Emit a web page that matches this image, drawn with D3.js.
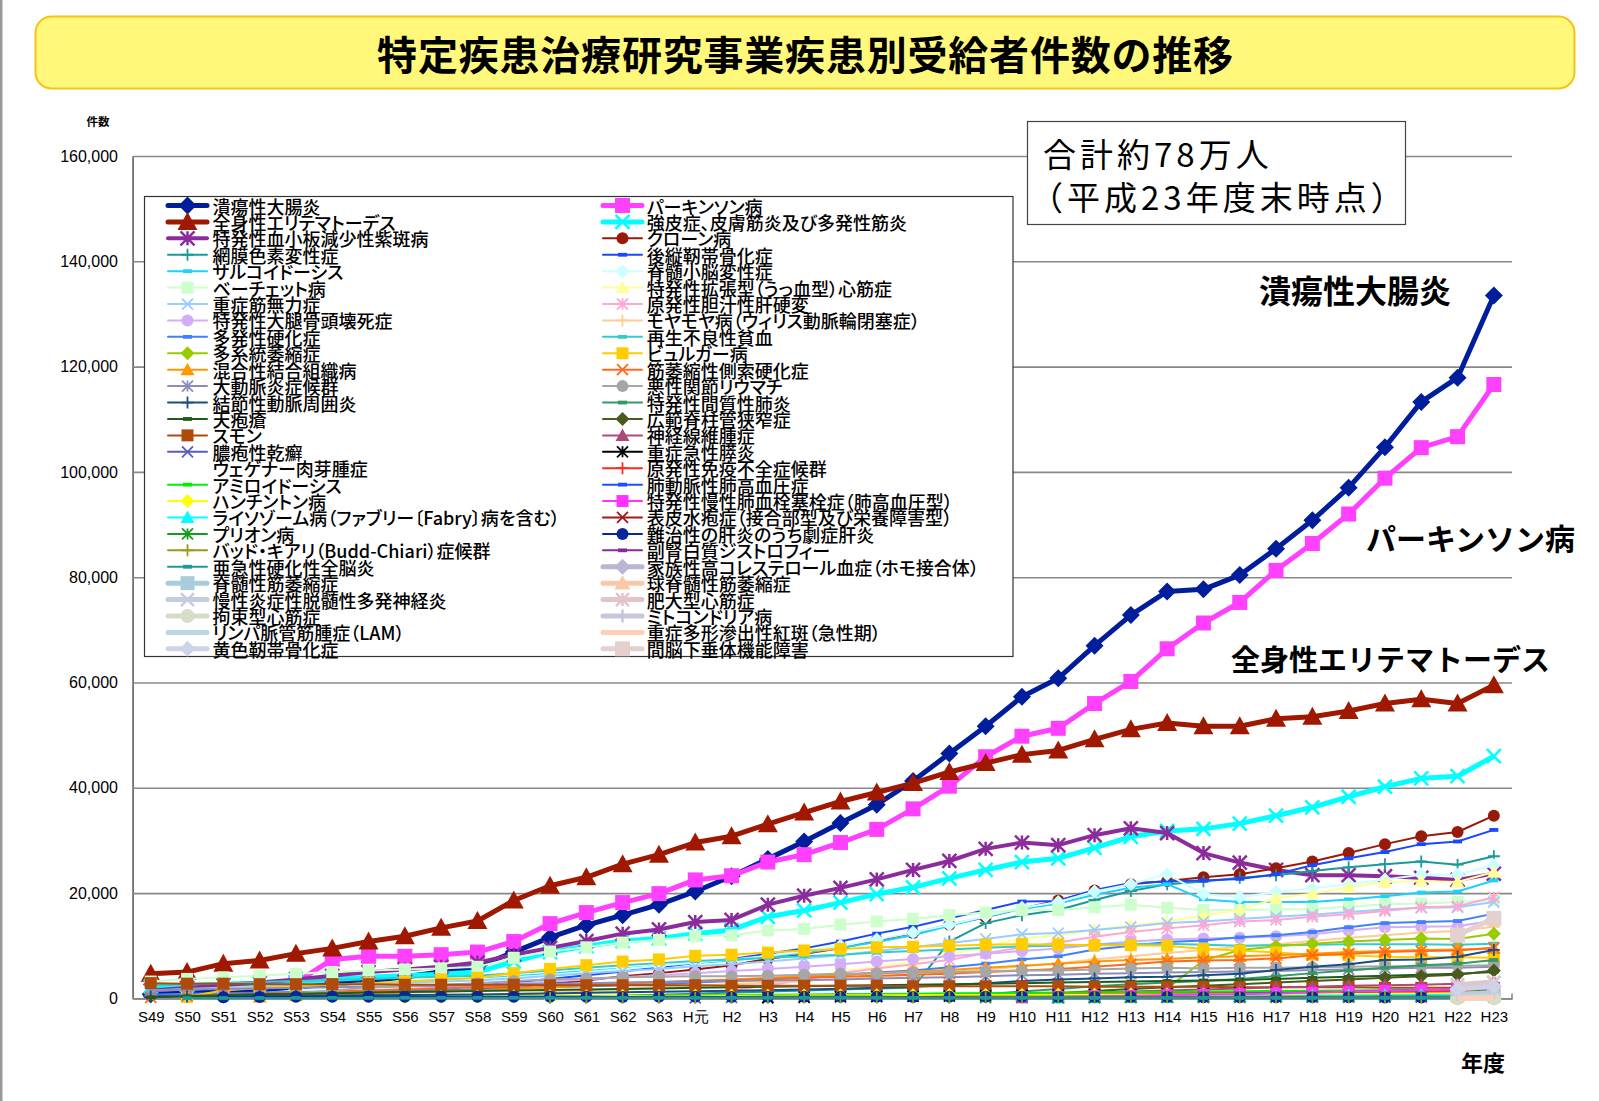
<!DOCTYPE html>
<html><head><meta charset="utf-8">
<script src="https://cdn.jsdelivr.net/npm/d3@7"></script>
<style>body{margin:0;background:#fff;} svg{display:block} .lgt{font-feature-settings:'palt';}</style>
</head><body><svg id="c" width="1599" height="1101"></svg>
<script>
const N = null;
const categories = ["S49","S50","S51","S52","S53","S54","S55","S56","S57","S58","S59","S60","S61","S62","S63","H元","H2","H3","H4","H5","H6","H7","H8","H9","H10","H11","H12","H13","H14","H15","H16","H17","H18","H19","H20","H21","H22","H23"];
const yTicks = [0,20000,40000,60000,80000,100000,120000,140000,160000];

const leftNames = ["潰瘍性大腸炎","全身性エリテマトーデス","特発性血小板減少性紫斑病","網膜色素変性症","サルコイドーシス","ベーチェット病","重症筋無力症","特発性大腿骨頭壊死症","多発性硬化症","多系統萎縮症","混合性結合組織病","大動脈炎症候群","結節性動脈周囲炎","天疱瘡","スモン","膿疱性乾癬","ウェゲナー肉芽腫症","アミロイドーシス","ハンチントン病","ライソゾーム病（ファブリー〔Fabry〕病を含む）","プリオン病","バッド・キアリ（Budd-Chiari）症候群","亜急性硬化性全脳炎","脊髄性筋萎縮症","慢性炎症性脱髄性多発神経炎","拘束型心筋症","リンパ脈管筋腫症（LAM）","黄色靭帯骨化症"];
const rightNames = ["パーキンソン病","強皮症、皮膚筋炎及び多発性筋炎","クローン病","後縦靭帯骨化症","脊髄小脳変性症","特発性拡張型（うっ血型）心筋症","原発性胆汁性肝硬変","モヤモヤ病（ウィリス動脈輪閉塞症）","再生不良性貧血","ビュルガー病","筋萎縮性側索硬化症","悪性関節リウマチ","特発性間質性肺炎","広範脊柱管狭窄症","神経線維腫症","重症急性膵炎","原発性免疫不全症候群","肺動脈性肺高血圧症","特発性慢性肺血栓塞栓症（肺高血圧型）","表皮水疱症（接合部型及び栄養障害型）","難治性の肝炎のうち劇症肝炎","副腎白質ジストロフィー","家族性高コレステロール血症（ホモ接合体）","球脊髄性筋萎縮症","肥大型心筋症","ミトコンドリア病","重症多形滲出性紅斑（急性期）","間脳下垂体機能障害"];

// ---- left column series values (S49 .. H23) ----
const L01 = [800,1000,1300,1600,2000,2700,3300,4100,5000,6000,8800,11600,13900,15800,17800,20300,23200,26500,29800,33300,36800,41300,46500,51700,57300,60800,67000,72800,77300,77700,80400,85400,90800,97000,104700,113300,117900,133500];
const L02 = [4700,5000,6600,7200,8500,9500,10800,11800,13400,14700,18600,21400,23000,25500,27300,29600,30800,33100,35300,37400,39100,40900,43000,44700,46300,47100,49200,51100,52300,51700,51700,53100,53500,54600,56000,56800,56000,59500];
const L03 = [1500,2000,2500,3000,3600,4300,5000,5500,6000,6800,8300,9600,10900,12300,13100,14500,14900,17800,19500,21000,22600,24400,26100,28400,29600,29100,31000,32300,31400,27600,25800,24400,23400,23400,23200,22900,22500,23700];
const L04 = [N,N,N,N,N,N,N,N,N,N,N,N,300,500,700,900,1100,1300,1500,1700,1900,2000,10800,14300,15800,16800,18700,20400,21700,22200,22900,23400,24200,24900,25500,26000,25400,27000];
const L05 = [1500,1700,1900,2100,2300,2600,2900,3100,3400,3700,4200,4700,5200,5700,6200,6700,7200,7900,8600,9600,10700,12000,13800,15500,17000,18000,19700,21000,21700,18800,18300,18300,18300,18800,19400,20100,20300,22400];
const L06 = [3200,3700,4000,4300,4700,5000,5300,5500,5700,6000,7700,8900,9700,10600,11100,11800,12000,12900,13200,14000,14600,15100,15800,16300,16800,16800,17300,17800,17200,16800,16800,16900,17000,17400,17900,18000,18300,18700];
const L07 = [1500,1800,2000,2200,2400,2600,2800,3000,3200,3400,3800,4300,4800,5200,5600,6100,6500,7000,7600,8200,9000,9700,10500,11300,12200,12400,13000,13600,14300,14600,15100,15500,15900,16400,16900,17200,17300,18300];
const L08 = [N,N,300,600,900,1200,1500,1800,2100,2400,2800,3200,3600,4000,4400,4800,5200,5600,6000,6500,7000,7500,8000,8500,9000,9500,10200,10800,11200,11400,11500,11800,12200,12900,13500,13600,13700,14800];
const L09 = [700,900,1000,1100,1200,1300,1400,1500,1600,1700,1900,2100,2300,2500,2700,3000,3300,3600,4000,4400,4900,5300,5900,6600,7400,8000,9300,10000,10700,11000,11600,12000,12600,13500,14300,14500,14700,16100];
const L10 = [N,N,N,N,N,N,N,N,N,N,N,N,N,N,N,N,N,N,N,N,N,N,N,N,N,N,N,N,1900,7200,9200,9900,10400,10800,11100,11400,11300,12300];
const L11 = [N,N,N,300,500,700,900,1100,1300,1500,1800,2100,2400,2700,3000,3300,3600,3900,4200,4500,4800,5100,5400,5800,6200,6600,7000,7300,7500,7800,8000,8200,8500,8800,9000,9200,9300,9500];
const L12 = [1500,1700,1800,1900,2000,2100,2200,2300,2400,2500,2700,2800,2900,3000,3100,3200,3300,3400,3500,3600,3800,3900,4000,4200,4400,4500,4700,4800,4900,5000,5100,5200,5400,5500,5700,5800,5800,6000];
const L13 = [300,350,400,450,500,550,600,650,700,750,850,950,1050,1150,1250,1350,1450,1550,1700,1850,2000,2200,2500,2900,3300,3600,3800,4000,4100,4400,4700,5400,6000,6500,7300,7400,7900,9200];
const L14 = [200,400,600,800,900,1000,1100,1200,1300,1400,1500,1600,1700,1800,1900,2000,2100,2200,2300,2400,2500,2600,2700,2800,2900,3000,3100,3200,3300,3400,3500,3700,3900,4100,4300,4500,4700,5000];
const L15 = [2900,2800,2800,2700,2700,2700,2700,2600,2600,2600,2600,2500,2500,2500,2500,2500,2400,2400,2400,2400,2400,2300,2300,2300,2300,2300,2200,2200,2200,2200,2100,2100,2100,2100,2000,2000,2000,2000];
const L16 = [N,N,N,N,N,N,N,N,N,N,N,N,N,N,N,100,200,300,400,500,550,600,650,700,750,800,850,900,950,1000,1050,1100,1200,1300,1400,1500,1600,1700];
const L17 = [N,N,N,N,N,N,N,N,N,N,N,N,N,N,N,100,150,200,250,300,350,400,450,500,550,600,650,700,750,800,850,900,950,1000,1100,1200,1300,1400];
const L18 = [N,N,N,N,N,100,160,210,240,300,340,410,450,490,560,600,640,700,760,790,850,900,960,1000,1040,1100,1160,1200,1230,1300,1360,1390,1450,1500,1540,1600,1640,1700];
const L19 = [N,N,N,N,N,N,N,200,260,300,350,400,420,440,460,480,500,520,540,560,590,610,630,650,660,680,700,720,730,750,770,790,800,820,840,860,880,900];
const L20 = [N,N,N,N,N,N,N,N,N,N,N,N,N,N,N,N,N,N,N,N,N,N,N,N,N,100,150,200,250,320,380,430,480,540,590,650,700,780];
const L21 = [N,N,N,N,N,N,N,N,N,N,N,N,N,N,N,N,N,N,N,N,N,N,N,150,180,200,220,240,260,270,290,300,320,330,350,360,380,400];
const L22 = [N,N,N,N,N,N,N,N,N,N,N,80,100,110,120,130,140,150,160,170,180,185,190,195,200,205,210,215,220,225,230,235,240,245,250,255,260,270];
const L23 = [N,60,70,80,90,100,100,110,110,110,110,110,110,100,100,100,100,100,100,100,100,90,90,90,90,90,90,90,90,90,90,90,90,90,90,90,90,90];
const L24 = [N,N,N,N,N,N,N,N,N,N,N,N,N,N,N,N,N,N,N,N,N,N,N,N,N,N,N,N,N,N,N,N,N,N,N,N,600,700];
const L25 = [N,N,N,N,N,N,N,N,N,N,N,N,N,N,N,N,N,N,N,N,N,N,N,N,N,N,N,N,N,N,N,N,N,N,N,N,2600,3100];
const L26 = [N,N,N,N,N,N,N,N,N,N,N,N,N,N,N,N,N,N,N,N,N,N,N,N,N,N,N,N,N,N,N,N,N,N,N,N,20,25];
const L27 = [N,N,N,N,N,N,N,N,N,N,N,N,N,N,N,N,N,N,N,N,N,N,N,N,N,N,N,N,N,N,N,N,N,N,N,N,300,400];
const L28 = [N,N,N,N,N,N,N,N,N,N,N,N,N,N,N,N,N,N,N,N,N,N,N,N,N,N,N,N,N,N,N,N,N,N,N,N,1800,2300];

// ---- right column series values ----
const R01 = [N,N,N,N,3000,7400,8000,8000,8300,8800,10800,14200,16300,18200,19900,22500,23300,25900,27300,29600,32100,36000,40300,45900,49800,51300,56000,60200,66400,71300,75200,81300,86400,92000,98800,104600,106700,116600];
const R02 = [2300,2500,2700,2900,3100,3600,4000,4300,4600,5000,7000,8800,9900,10900,11400,12300,13000,15500,16700,18200,19800,21100,22800,24400,25900,26600,28600,30700,31800,32200,33200,34700,36300,38300,40200,41800,42200,46000];
const R03 = [N,N,200,400,600,800,1000,1200,1400,1700,2200,2800,3400,4200,4800,5500,6300,7500,8500,9500,11000,12400,14000,15400,17100,18600,20500,21700,22300,23000,23600,24700,26000,27600,29300,30800,31600,34700];
const R04 = [N,N,N,N,N,N,800,1300,1800,2400,3000,3700,4400,5100,5900,6700,7500,8500,9500,10800,12300,13600,15200,16800,18400,18500,20600,21900,22200,22400,22700,23600,25300,26600,27800,29300,29800,32000];
const R05 = [N,N,500,1000,1500,2000,2400,2800,3200,3600,4000,4500,5000,5600,6200,6800,7400,8100,8900,10000,11200,12500,14000,15600,17200,18300,20300,21700,23600,19800,19200,20200,20900,21700,22600,23500,23500,25300];
const R06 = [N,N,N,N,N,N,N,N,N,N,N,500,1000,1500,2000,2400,2800,3300,4000,5000,6000,7000,8400,9800,11400,12000,13000,13900,14600,15800,16800,19000,19900,21100,22100,22300,22100,24000];
const R07 = [N,N,N,N,N,N,N,N,N,N,N,N,N,N,N,N,1500,2500,3500,4800,5700,6500,7300,8600,9700,10600,11700,12600,13300,13900,14600,14900,15500,16000,16600,17300,17500,19200];
const R08 = [N,N,N,N,N,N,N,N,300,600,900,1200,1500,1800,2100,2400,2700,3000,3300,3700,4100,4500,5000,5500,6100,6700,7400,8000,8600,9200,9800,10300,10900,11500,12000,12500,12800,13600];
const R09 = [2500,2700,2900,3100,3300,3500,3700,3900,4100,4300,4800,5300,5800,6300,6700,7100,7400,7700,8000,8300,8700,9000,9300,9600,9900,10000,10200,10300,10400,10200,10000,10100,10200,10300,10300,10300,10200,10400];
const R10 = [N,300,1500,2000,2300,2600,2900,3200,3600,3900,4800,5600,6300,7000,7400,8100,8300,8700,9100,9400,9700,9800,10000,10200,10300,10200,10100,10100,10000,9400,9100,8700,8300,8200,7900,7800,7800,7700];
const R11 = [200,500,700,900,1100,1300,1500,1700,1900,2100,2300,2500,2700,2900,3100,3300,3500,3700,3900,4100,4300,4500,4700,5000,5300,5600,6000,6500,7000,7200,7300,7600,8200,8500,8800,9000,9100,9600];
const R12 = [N,N,N,500,1000,1500,2000,2300,2600,2900,3300,3600,3800,4000,4100,4200,4200,4300,4500,4700,4800,4900,5000,5100,5300,5300,5500,5700,5800,5700,5800,5800,5900,6000,6100,6100,6200,6300];
const R13 = [N,N,N,N,N,N,N,N,N,N,N,N,N,N,N,N,N,N,N,N,N,N,300,800,1300,1800,2300,2700,3000,3300,3700,4200,4800,5300,5800,6300,6600,7300];
const R14 = [N,N,N,N,N,N,N,N,N,N,N,N,N,N,N,N,N,N,N,N,N,N,N,N,600,1000,1400,1800,2100,2400,2700,3000,3300,3600,3900,4200,4500,5300];
const R15 = [N,N,N,N,N,N,N,N,N,N,N,N,N,N,N,N,N,N,N,N,N,N,N,N,700,900,1100,1300,1500,1700,1900,2100,2200,2400,2500,2600,2800,3200];
const R16 = [N,N,N,N,N,N,N,N,N,N,N,N,N,N,N,N,N,100,200,300,350,400,450,500,560,620,700,780,850,950,1050,1150,1250,1350,1450,1550,1600,1650];
const R17 = [N,N,N,N,N,N,N,N,N,N,N,N,300,400,450,500,550,600,650,700,750,800,850,900,950,1000,1000,1050,1100,1100,1150,1150,1200,1200,1250,1250,1300,1300];
const R18 = [N,N,N,N,N,N,N,N,N,N,N,N,N,N,N,N,N,N,N,N,N,N,N,N,300,400,500,600,700,800,900,1000,1100,1250,1400,1550,1700,2200];
const R19 = [N,N,N,N,N,N,N,N,N,N,N,N,N,N,N,N,N,N,N,N,N,N,N,N,200,300,400,500,600,700,800,950,1100,1250,1400,1550,1700,1900];
const R20 = [N,N,N,N,N,N,N,N,N,N,N,N,N,N,N,N,N,N,N,N,N,N,N,N,N,150,170,190,200,210,220,230,240,250,260,270,280,300];
const R21 = [N,N,200,260,300,320,310,300,290,300,310,290,300,280,300,290,280,300,290,310,300,280,290,300,290,280,270,260,250,240,230,220,210,200,190,180,170,160];
const R22 = [N,N,N,N,N,N,N,N,N,N,N,N,N,N,N,N,N,N,N,N,N,N,N,N,N,N,100,110,120,130,140,150,160,170,180,180,190,190];
const R23 = [N,N,N,N,N,N,N,N,N,N,N,N,N,N,N,N,N,N,N,N,N,N,N,N,N,N,N,N,N,N,N,N,N,N,N,N,100,130];
const R24 = [N,N,N,N,N,N,N,N,N,N,N,N,N,N,N,N,N,N,N,N,N,N,N,N,N,N,N,N,N,N,N,N,N,N,N,N,800,1000];
const R25 = [N,N,N,N,N,N,N,N,N,N,N,N,N,N,N,N,N,N,N,N,N,N,N,N,N,N,N,N,N,N,N,N,N,N,N,N,2400,3000];
const R26 = [N,N,N,N,N,N,N,N,N,N,N,N,N,N,N,N,N,N,N,N,N,N,N,N,N,N,N,N,N,N,N,N,N,N,N,N,700,1100];
const R27 = [N,N,N,N,N,N,N,N,N,N,N,N,N,N,N,N,N,N,N,N,N,N,N,N,N,N,N,N,N,N,N,N,N,N,N,N,40,60];
const R28 = [N,N,N,N,N,N,N,N,N,N,N,N,N,N,N,N,N,N,N,N,N,N,N,N,N,N,N,N,N,N,N,N,N,N,N,N,12000,15200];

const leftData = [L01,L02,L03,L04,L05,L06,L07,L08,L09,L10,L11,L12,L13,L14,L15,L16,L17,L18,L19,L20,L21,L22,L23,L24,L25,L26,L27,L28];
const rightData = [R01,R02,R03,R04,R05,R06,R07,R08,R09,R10,R11,R12,R13,R14,R15,R16,R17,R18,R19,R20,R21,R22,R23,R24,R25,R26,R27,R28];

// ---- styles (colour, line width, marker type, marker size) ----
const leftStyle = [
 ["#001E9C",5,"diamond",9],["#A01800",5,"triangle",10],["#8C2C9C",4,"asterisk",7],["#1A9A9A",2,"plus",6],
 ["#1AD2FA",2,"dash",4.5],["#CCFFCC",2,"square",6],["#99CCFF",2,"x",5.5],["#D2AEF8",2,"circle",6],
 ["#3F80FF",2,"dash",4.5],["#99CC00",2,"diamond",7],["#FF9900",2,"triangle",7],["#8C8CBA",2,"asterisk",5.5],
 ["#1A4F86",2,"plus",6],["#1A5E1A",2,"dash",4.5],["#B04A0A",2,"square",6],["#5A5ABF",2,"x",5.5],
 [null,2,"none",0],["#00F000",2,"dash",4.5],["#FFFF00",2,"diamond",7],["#00FFFF",2,"triangle",7],
 ["#1A9A1A",2,"asterisk",5.5],["#9A9A1A",2,"plus",6],["#1A9A9A",2,"dash",4.5],["#A8CCDC",5,"square",7],
 ["#C4CCE2",5,"x",6.5],["#D4DEC8",5,"circle",7],["#BCD6E4",5,"none",0],["#CDD3E8",5,"diamond",8]
];
const rightStyle = [
 ["#FF40FF",5,"square",7.5],["#00FFFF",5,"x",7],["#9A1A0A",2,"circle",6],["#1A48FF",2,"dash",4.5],
 ["#CCFFFF",2,"diamond",7],["#FFFF99",2,"triangle",7],["#FFA6D2",2,"asterisk",5.5],["#FFCC99",2,"plus",6],
 ["#33CCCC",2,"dash",4.5],["#FFCC00",2,"square",6],["#FF6A1A",2,"x",5.5],["#A6A6A6",2,"circle",6],
 ["#339966",2,"dash",4.5],["#4A5A1A",2,"diamond",7],["#B0487A",2,"triangle",7],["#000000",2,"asterisk",5.5],
 ["#FF2A1A",2,"plus",6],["#1A50FF",2,"dash",4.5],["#FF33FF",2,"square",6],["#A01A1A",2,"x",5.5],
 ["#0A2596",2,"circle",6],["#8A2A9A",2,"dash",4.5],["#B8B6D2",5,"diamond",8],["#FAC8A8",5,"triangle",8],
 ["#E3C5C8",5,"asterisk",6.5],["#C7C7DC",5,"plus",6.5],["#FCCFB6",5,"none",0],["#E5D0D0",5,"square",7.5]
];

const JP = "'Noto Sans CJK JP','Noto Sans CJK SC',sans-serif";
const LAT = "'Liberation Sans',Arial,sans-serif";
const svg = d3.select("#c");

svg.append("rect").attr("x",0).attr("y",0).attr("width",1599).attr("height",1101).attr("fill","#fff");
svg.append("rect").attr("x",0).attr("y",0).attr("width",2.5).attr("height",1101).attr("fill","#9a9a9a");

// title
svg.append("rect").attr("x",35.5).attr("y",16.5).attr("width",1539).attr("height",72).attr("rx",16)
  .attr("fill","#FFF87A").attr("stroke","#F6C316").attr("stroke-width",2);
svg.append("text").attr("x",805.5).attr("y",53).attr("text-anchor","middle").attr("dominant-baseline","central")
  .attr("font-family",JP).attr("font-weight","bold").attr("font-size",40).attr("letter-spacing",0.8)
  .attr("fill","#000").text("特定疾患治療研究事業疾患別受給者件数の推移");

const x0 = 132.6, x1 = 1512, yb = 998.4, yt = 156;
const xs = d3.scalePoint().domain(categories).range([x0, x1]).padding(0.5);
const ys = d3.scaleLinear().domain([0,160000]).range([yb, yt]);

// y axis with gridlines
const yAxis = svg.append("g").attr("transform",`translate(${x0},0)`)
  .call(d3.axisLeft(ys).tickValues(yTicks).tickSize(-(x1-x0)).tickSizeOuter(0).tickPadding(14.6).tickFormat(d3.format(",")));
yAxis.select(".domain").attr("stroke","#555").attr("stroke-width",1.5);
yAxis.selectAll(".tick line").attr("stroke","#888").attr("stroke-width",1.6);
yAxis.selectAll(".tick text").attr("font-family",LAT).attr("font-size",16).attr("fill","#000");

// x axis
const xAxis = svg.append("g").attr("transform",`translate(0,${yb})`)
  .call(d3.axisBottom(xs).tickSize(0).tickPadding(13).tickSizeOuter(0));
xAxis.select(".domain").attr("stroke","#888").attr("stroke-width",1.6);
xAxis.selectAll(".tick text").attr("font-family",LAT).attr("font-size",15).attr("fill","#000");
svg.append("line").attr("x1",x1).attr("x2",x1).attr("y1",yb-5).attr("y2",yb+1).attr("stroke","#888").attr("stroke-width",1.6);

svg.append("text").attr("x",98).attr("y",121).attr("text-anchor","middle").attr("dominant-baseline","central")
  .attr("font-family",JP).attr("font-size",11.5).attr("font-weight","bold").text("件数");
svg.append("text").attr("x",1483).attr("y",1061).attr("text-anchor","middle").attr("dominant-baseline","central")
  .attr("font-family",JP).attr("font-size",22).attr("font-weight","bold").text("年度");

function marker(sel, type, cx, cy, s, color, sw) {
  if (!color || type === "none") return;
  if (type === "diamond") sel.append("path").attr("d",`M${cx},${cy-s}L${cx+s},${cy}L${cx},${cy+s}L${cx-s},${cy}Z`).attr("fill",color);
  else if (type === "triangle") sel.append("path").attr("d",`M${cx},${cy-s}L${cx+s},${cy+s*0.8}L${cx-s},${cy+s*0.8}Z`).attr("fill",color);
  else if (type === "square") sel.append("rect").attr("x",cx-s).attr("y",cy-s).attr("width",2*s).attr("height",2*s).attr("fill",color);
  else if (type === "circle") sel.append("circle").attr("cx",cx).attr("cy",cy).attr("r",s).attr("fill",color);
  else if (type === "dash") sel.append("rect").attr("x",cx-s).attr("y",cy-1.9).attr("width",2*s).attr("height",3.8).attr("fill",color);
  else {
    let d = "";
    if (type !== "plus") d += `M${cx-s},${cy-s}L${cx+s},${cy+s}M${cx-s},${cy+s}L${cx+s},${cy-s}`;
    if (type !== "x") d += `M${cx},${cy-s}L${cx},${cy+s}`;
    if (type === "plus") d += `M${cx-s},${cy}L${cx+s},${cy}`;
    sel.append("path").attr("d",d).attr("stroke",color).attr("stroke-width",sw).attr("fill","none");
  }
}

// legend box
const lg = svg.append("g");
lg.append("rect").attr("x",144.5).attr("y",196.5).attr("width",868.5).attr("height",460).attr("fill","#fff").attr("stroke","#333").attr("stroke-width",1.2);
const rowY = i => 205.5 + i*16.42;
function legendItem(style, name, i, lx0, lx1, tx) {
  const [c,w,m,s] = style, y = rowY(i);
  if (c) {
    lg.append("line").attr("x1",lx0).attr("x2",lx1).attr("y1",y).attr("y2",y).attr("stroke",c).attr("stroke-width",w).attr("stroke-linecap","round");
    marker(lg, m, (lx0+lx1)/2, y, s, c, w >= 4 ? 2.5 : 1.8);
  }
  lg.append("text").attr("class","lgt").attr("x",tx).attr("y",y).attr("dominant-baseline","central").attr("font-family",JP)
    .attr("font-size",18).attr("font-weight",500).attr("fill","#000").text(name);
}
leftNames.forEach((n,i) => legendItem(leftStyle[i], n, i, 168, 207, 212.5));
rightNames.forEach((n,i) => legendItem(rightStyle[i], n, i, 603, 642, 646.7));

// series (drawn row-major like the legend order)
const plot = svg.append("g");
const lineGen = d3.line().defined(d => d.v !== null).x(d => xs(d.c)).y(d => ys(d.v));
function drawSeries(values, style) {
  const [c,w,m,s] = style;
  if (!c) return;
  const pts = values.map((v,i) => ({c: categories[i], v}));
  const g = plot.append("g");
  g.append("path").datum(pts).attr("d", lineGen).attr("fill","none").attr("stroke",c).attr("stroke-width",w).attr("stroke-linejoin","round");
  pts.filter(p => p.v !== null).forEach(p => marker(g, m, xs(p.c), ys(p.v), s, c, w >= 4 ? 2.5 : 1.8));
}
for (let i = 0; i < 28; i++) {
  drawSeries(leftData[i], leftStyle[i]);
  drawSeries(rightData[i], rightStyle[i]);
}

// annotation box
svg.append("rect").attr("x",1027.5).attr("y",121.5).attr("width",378).attr("height",103).attr("fill","#fff").attr("stroke","#444").attr("stroke-width",1.2);
svg.append("text").attr("x",1043).attr("y",153).attr("dominant-baseline","central").attr("font-family",JP)
  .attr("font-size",33).attr("letter-spacing",4).attr("fill","#000").text("合計約78万人");
svg.append("text").attr("x",1030).attr("y",196).attr("dominant-baseline","central").attr("font-family",JP)
  .attr("font-size",33).attr("letter-spacing",4).attr("fill","#000").text("（平成23年度末時点）");

// series labels
const labels = [["潰瘍性大腸炎",1259,289,32],["パーキンソン病",1366,537,30],["全身性エリテマトーデス",1231,658,29]];
labels.forEach(([t,x,y,fs]) => svg.append("text").attr("x",x).attr("y",y).attr("dominant-baseline","central")
  .attr("font-family",JP).attr("font-weight","bold").attr("font-size",fs).attr("fill","#000").text(t));
</script></body></html>
